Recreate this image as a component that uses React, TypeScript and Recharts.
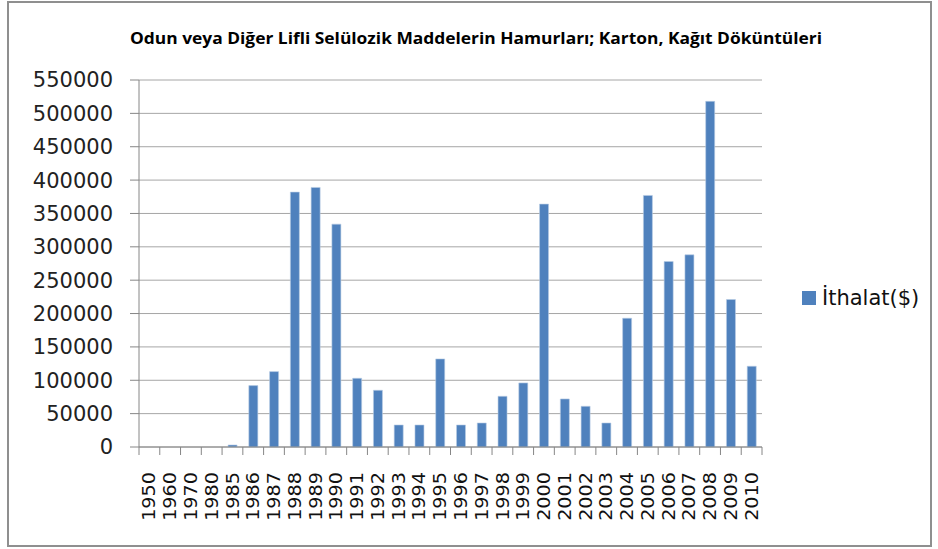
import React from "react";
import { Bar, BarChart, CartesianGrid, XAxis, YAxis } from "recharts";

const chartTitle =
  "Odun veya Diğer Lifli Selülozik Maddelerin Hamurları; Karton, Kağıt Döküntüleri";
const seriesName = "İthalat($)";

const years = [
  "1950", "1960", "1970", "1980", "1985", "1986", "1987", "1988", "1989",
  "1990", "1991", "1992", "1993", "1994", "1995", "1996", "1997", "1998",
  "1999", "2000", "2001", "2002", "2003", "2004", "2005", "2006", "2007",
  "2008", "2009", "2010",
];

const imports = [
  0, 0, 0, 0, 3000, 92000, 113000, 382000, 389000, 334000, 103000, 85000,
  33000, 33000, 132000, 33000, 36000, 76000, 96000, 364000, 72000, 61000,
  36000, 193000, 377000, 278000, 288000, 518000, 221000, 121000,
];

const yTicks = [
  0, 50000, 100000, 150000, 200000, 250000, 300000, 350000, 400000, 450000,
  500000, 550000,
];

const data = years.map((year, i) => ({ year, value: imports[i] }));

const BAR_COLOR = "#4f81bd";
const AXIS_COLOR = "#868686";
const PLOT_LEFT = 139;
const PLOT_RIGHT = 762;
const band = (PLOT_RIGHT - PLOT_LEFT) / years.length;

const XTick = (props: any) => {
  const { x, y, payload, index } = props;
  return (
    <g>
      <line x1={x - band / 2} x2={x - band / 2} y1={y} y2={y + 8} stroke={AXIS_COLOR} />
      {index === years.length - 1 && (
        <line x1={x + band / 2} x2={x + band / 2} y1={y} y2={y + 8} stroke={AXIS_COLOR} />
      )}
      <text
        transform={`translate(${x},${y + 25}) rotate(-90) scale(1.13,1)`}
        textAnchor="end"
        dominantBaseline="central"
        fontSize={17}
        fontFamily="DejaVu Sans"
        fill="#111"
      >
        {payload.value}
      </text>
    </g>
  );
};

export default function App() {
  return (
    <div style={{ position: "absolute", left: 0, top: 0, width: 938, height: 549, background: "#fff" }}>
      {/* frame */}
      <div
        style={{
          position: "absolute",
          left: 7,
          top: 1,
          width: 925,
          height: 546,
          boxSizing: "border-box",
          border: "2px solid #8f8f8f",
        }}
      />
      {/* title */}
      <svg style={{ position: "absolute", left: 0, top: 0 }} width={938} height={60}>
        <text
          x={130}
          y={44}
          fontSize={16}
          fontWeight="bold"
          fontFamily="Open Sans"
          textLength={692}
          lengthAdjust="spacingAndGlyphs"
          fill="#000"
        >
          {chartTitle}
        </text>
      </svg>
      <div style={{ position: "absolute", left: 0, top: 0 }}>
        <BarChart
          width={938}
          height={549}
          data={data}
          margin={{ top: 80, right: 938 - PLOT_RIGHT, bottom: 0, left: 0 }}
          barSize={9}
        >
          <CartesianGrid vertical={false} stroke="#a6a6a6" />
          <XAxis
            dataKey="year"
            interval={0}
            height={102}
            tickLine={false}
            tickSize={0}
            tickMargin={0}
            axisLine={{ stroke: AXIS_COLOR }}
            tick={<XTick />}
          />
          <YAxis
            width={PLOT_LEFT}
            domain={[0, 550000]}
            ticks={yTicks}
            interval={0}
            tickSize={9}
            tickMargin={17}
            axisLine={{ stroke: AXIS_COLOR }}
            tickLine={{ stroke: AXIS_COLOR }}
            tick={{ fontSize: 21, fill: "#222", fontFamily: "DejaVu Sans" }}
          />
          <Bar
            dataKey="value"
            name={seriesName}
            fill={BAR_COLOR}
            stroke="#b8cce4"
            strokeWidth={0.6}
            isAnimationActive={false}
          />
        </BarChart>
      </div>
      {/* legend */}
      <div
        style={{
          position: "absolute",
          left: 802,
          top: 286,
          display: "flex",
          alignItems: "center",
          fontFamily: "DejaVu Sans",
          fontSize: 21,
          color: "#111",
        }}
      >
        <span style={{ display: "inline-block", width: 14, height: 14, background: BAR_COLOR, marginRight: 6 }} />
        <span>{seriesName}</span>
      </div>
    </div>
  );
}
